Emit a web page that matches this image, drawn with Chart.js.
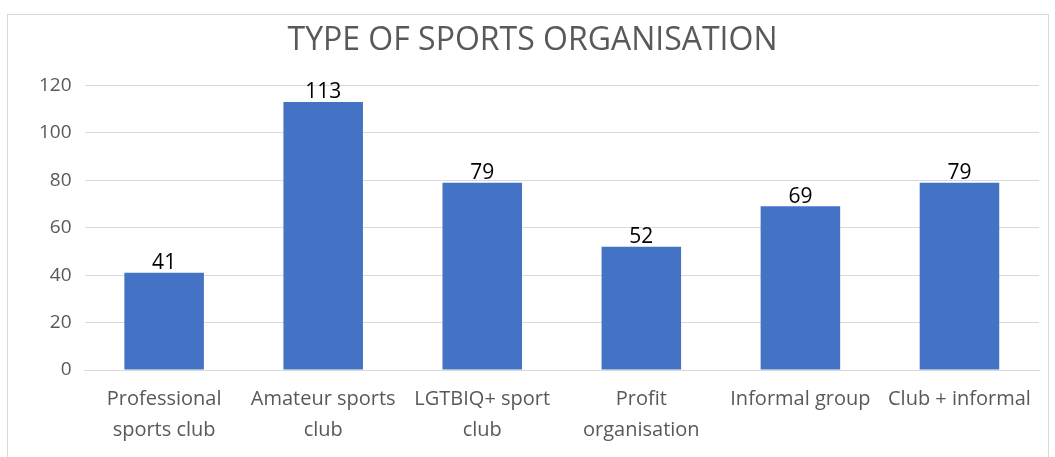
<!DOCTYPE html>
<html>
<head>
<meta charset="utf-8">
<script src="https://cdn.jsdelivr.net/npm/chart.js@4.4.0/dist/chart.umd.min.js"></script>
<style>
  html, body { margin: 0; padding: 0; background: #fff; }
  #frame {
    position: absolute; left: 7px; top: 14px;
    width: 1042px; height: 460px;
    border: 1px solid #d9d9d9; box-sizing: border-box;
  }
  #wrap { position: absolute; left: 0; top: 0; width: 1040px; height: 437px; }
</style>
</head>
<body>
<div id="frame"><div id="wrap"><canvas id="orgChart"></canvas></div></div>
<script>
// chart data
const categories = [
  ['Professional', 'sports club'],
  ['Amateur sports', 'club'],
  ['LGTBIQ+ sport', 'club'],
  ['Profit', 'organisation'],
  ['Informal group'],
  ['Club + informal']
];
const counts = [41, 113, 79, 52, 69, 79];
const yTicks = [0, 20, 40, 60, 80, 100, 120];

const fontFamily = '"Open Sans", "Noto Sans", sans-serif';

// draw the value above each bar
const valueLabels = {
  id: 'valueLabels',
  afterDatasetsDraw(chart) {
    const ctx = chart.ctx;
    const meta = chart.getDatasetMeta(0);
    ctx.save();
    ctx.font = '21px ' + fontFamily;
    ctx.fillStyle = '#000';
    ctx.textAlign = 'center';
    ctx.textBaseline = 'bottom';
    meta.data.forEach(function(bar, i) {
      ctx.fillText(counts[i], bar.x, bar.y + 1);
    });
    ctx.restore();
  }
};

var ctx = document.getElementById('orgChart').getContext('2d');
var chart = new Chart(ctx, {
  type: 'bar',
  data: {
    labels: categories,
    datasets: [{
      label: 'Type of sports organisation',
      data: counts,
      backgroundColor: '#4472c4',
      borderWidth: 0,
      categoryPercentage: 1,
      barPercentage: 0.5
    }]
  },
  options: {
    responsive: true,
    maintainAspectRatio: false,
    animation: false,
    layout: { padding: { left: 18, right: 9, top: 4, bottom: 0 } },
    plugins: {
      legend: { display: false },
      tooltip: { enabled: false },
      title: {
        display: true,
        text: 'TYPE OF SPORTS ORGANISATION',
        color: '#595959',
        font: { family: fontFamily, size: 32, weight: 'normal' },
        padding: { top: 3, bottom: 25 }
      }
    },
    scales: {
      x: {
        grid: { display: false },
        border: { color: '#d9d9d9', width: 1 },
        ticks: {
          color: '#595959',
          maxRotation: 0,
          autoSkip: false,
          padding: 6,
          font: { family: fontFamily, size: 20, lineHeight: 1.55 }
        }
      },
      y: {
        min: 0,
        max: 120,
        afterBuildTicks: function(axis) {
          axis.ticks = yTicks.map(function(v) { return { value: v }; });
        },
        grid: { color: '#d9d9d9', lineWidth: 1, drawTicks: false },
        border: { display: false },
        ticks: {
          color: '#595959',
          padding: 13,
          font: { family: fontFamily, size: 19 }
        }
      }
    }
  },
  plugins: [valueLabels]
});
</script>
</body>
</html>
